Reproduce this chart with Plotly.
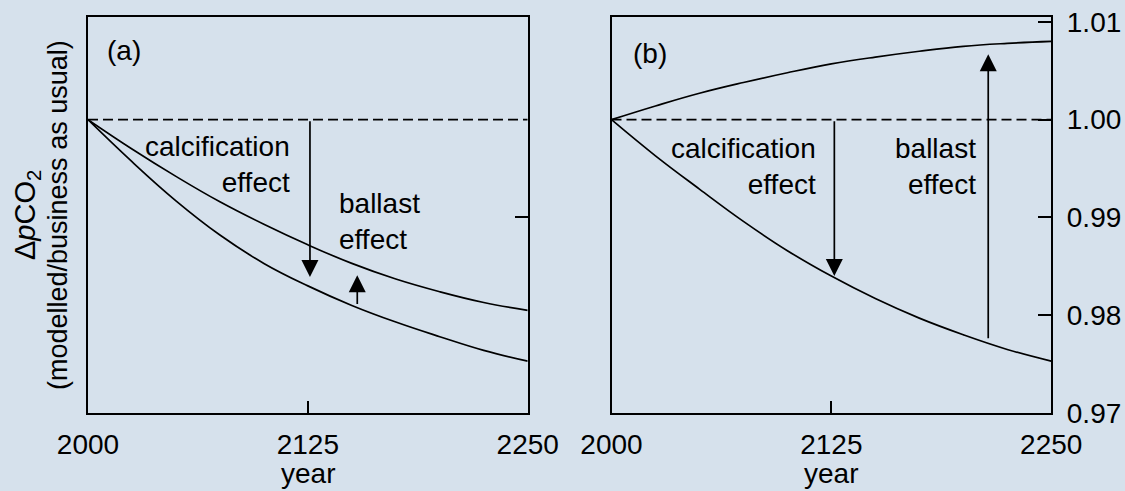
import plotly.graph_objects as go

# ---------------- data ----------------
years = [2000, 2025, 2050, 2075, 2100, 2125, 2150, 2175, 2200, 2225, 2250]
# panel (a)
a_calcification = [1.0, 0.9957, 0.9917, 0.9882, 0.9853, 0.9830, 0.9810, 0.9793, 0.9778, 0.9764, 0.9753]
a_calc_ballast = [1.0, 0.9970, 0.9942, 0.9916, 0.9893, 0.9872, 0.9853, 0.9837, 0.9824, 0.9813, 0.9805]
# panel (b)
b_calcification = [1.0, 0.9963, 0.9929, 0.9896, 0.9866, 0.9840, 0.9817, 0.9797, 0.9780, 0.9765, 0.9753]
b_ballast = [1.0, 1.0014, 1.0027, 1.0038, 1.0048, 1.0057, 1.0064, 1.0070, 1.0075, 1.0078, 1.0080]
baseline_years = [2000, 2250]
baseline = [1.0, 1.0]

x_ticks = [2000, 2125, 2250]
x_ticklabels = ["2000", "2125", "2250"]
y_ticks = [0.97, 0.98, 0.99, 1.00, 1.01]
y_ticklabels = ["0.97", "0.98", "0.99", "1.00", "1.01"]

# ---------------- style ----------------
W, H = 1125, 491
BG = "#d6e1ec"
FONT = "Liberation Sans, Arial, Helvetica, sans-serif"
FS = 28
LW = 1.7


def px(x):
    return x / W


def py(y):
    return (H - y) / H


fig = go.Figure()

line = dict(color="black", width=LW, shape="spline", smoothing=1.2)
for xa, ya, series in [("x", "y", [a_calcification, a_calc_ballast]),
                       ("x2", "y2", [b_calcification, b_ballast])]:
    fig.add_trace(go.Scatter(x=baseline_years, y=baseline, mode="lines",
                             line=dict(color="black", width=LW, dash="10px,5px"),
                             xaxis=xa, yaxis=ya, showlegend=False, hoverinfo="skip"))
    for s in series:
        fig.add_trace(go.Scatter(x=years, y=s, mode="lines", line=line,
                                 xaxis=xa, yaxis=ya, showlegend=False))

yrange = [0.97, 1.0105]
ydom = [py(413), py(17)]
common_x = dict(range=[2000, 2250], showline=True, mirror=True, linecolor="black", linewidth=2,
                ticks="inside", ticklen=12, tickwidth=1.6, tickcolor="black",
                tickvals=x_ticks, ticktext=x_ticklabels, showgrid=False, zeroline=False,
                automargin=False,
                tickfont=dict(family=FONT, size=FS, color="black"), ticklabelstandoff=5)
common_y = dict(range=yrange, domain=ydom, side="right", showline=True, mirror=True,
                linecolor="black", linewidth=2, ticks="inside", ticklen=13, tickwidth=1.6,
                tickcolor="black", showgrid=False, zeroline=False, automargin=False,
                tickfont=dict(family=FONT, size=FS, color="black"))

fig.update_layout(
    width=W, height=H, margin=dict(l=0, r=0, t=0, b=0, autoexpand=False),
    paper_bgcolor=BG, plot_bgcolor=BG,
    xaxis=dict(domain=[px(88), px(527.7)], anchor="y", **common_x),
    yaxis=dict(anchor="x", tickvals=[0.99], showticklabels=False, **common_y),
    xaxis2=dict(domain=[px(611.5), px(1051.2)], anchor="y2", **common_x),
    yaxis2=dict(anchor="x2", tickvals=y_ticks, ticktext=y_ticklabels, showticklabels=True,
                ticklabelstandoff=8, **common_y),
)

ann = []


def text(x, y, t, xanchor="center", align="center", size=FS, angle=0, yanchor="middle"):
    ann.append(dict(x=px(x), y=py(y), xref="paper", yref="paper", text=t, showarrow=False,
                    xanchor=xanchor, yanchor=yanchor, align=align, textangle=angle,
                    font=dict(family=FONT, size=size, color="black")))


text(124, 51, "(a)")
text(650, 53, "(b)")
text(292, 164, "calcification<br>effect", xanchor="right", align="right")
text(337, 222, "ballast<br>effect", xanchor="left", align="left")
text(818, 167, "calcification<br>effect", xanchor="right", align="right")
text(978, 167, "ballast<br>effect", xanchor="right", align="right")
text(308, 491, "year", yanchor="bottom")
text(831, 491, "year", yanchor="bottom")
text(27, 215, "Δ<i>p</i>CO<sub>2</sub>", size=29, angle=-90)
text(58, 215, "(modelled/business as usual)", size=27, angle=-90)


def arrow(xr, yr, x, y_tail, y_tip):
    ann.append(dict(x=x, y=y_tip, ax=x, ay=y_tail, xref=xr, yref=yr, axref=xr, ayref=yr,
                    text="", showarrow=True, arrowhead=2, arrowsize=2.0, arrowwidth=1.7,
                    arrowcolor="black", standoff=0, startstandoff=0))


arrow("x", "y", 2126.2, 1.0, 0.9839)
arrow("x", "y", 2153.1, 0.9810, 0.9841)
arrow("x2", "y2", 2126.7, 1.0, 0.9840)
arrow("x2", "y2", 2214.2, 0.9775, 1.0067)

fig.update_layout(annotations=ann)
fig.write_html("out.html", config={"displayModeBar": False},
               post_script="document.body.style.margin='0';document.body.style.padding='0';"
                           "document.body.style.background='" + BG + "';")
